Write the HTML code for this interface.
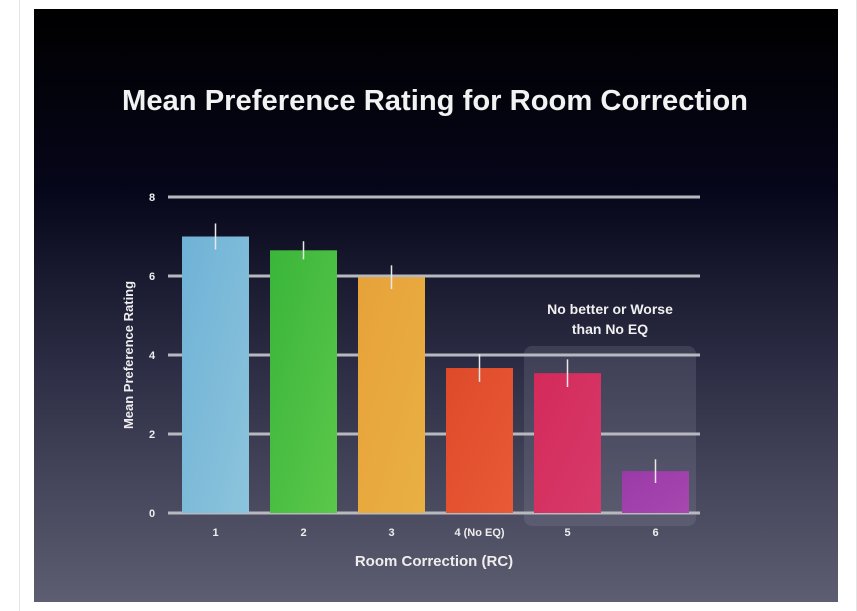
<!DOCTYPE html>
<html><head><meta charset="utf-8"><style>
body{margin:0;width:857px;height:611px;background:#fff;overflow:hidden;font-family:"Liberation Sans",sans-serif}
#frame{position:absolute;left:19px;top:0;width:836px;height:611px;border-left:1px solid #e4e4e4;border-right:1px solid #e4e4e4}
#slide{position:absolute;left:34px;top:9px;width:804px;height:593px;background:linear-gradient(#000 0%,#06061a 30%,#2c2c44 60%,#5e5e72 100%)}
svg{position:absolute;left:0;top:0}
</style></head><body>
<div id="frame"></div>
<div id="slide"></div>
<svg id="chart" width="857" height="611">
<defs>
<linearGradient id="g0" x1="0" x2="1" y1="0" y2="1"><stop offset="0" stop-color="#6fb2d6"/><stop offset="1" stop-color="#8cc4dc"/></linearGradient>
<linearGradient id="g1" x1="0" x2="1" y1="0" y2="1"><stop offset="0" stop-color="#3ab53a"/><stop offset="1" stop-color="#5bc84a"/></linearGradient>
<linearGradient id="g2" x1="0" x2="1" y1="0" y2="1"><stop offset="0" stop-color="#e7a23a"/><stop offset="1" stop-color="#e9b043"/></linearGradient>
<linearGradient id="g3" x1="0" x2="1" y1="0" y2="1"><stop offset="0" stop-color="#dd4a2a"/><stop offset="1" stop-color="#ea5a36"/></linearGradient>
<linearGradient id="g4" x1="0" x2="1" y1="0" y2="1"><stop offset="0" stop-color="#d42a5a"/><stop offset="1" stop-color="#d63a6a"/></linearGradient>
<linearGradient id="g5" x1="0" x2="1" y1="0" y2="1"><stop offset="0" stop-color="#9a3aa8"/><stop offset="1" stop-color="#a748b0"/></linearGradient>
</defs>
<text x="122" y="110" textLength="626" lengthAdjust="spacingAndGlyphs" fill="#f2f2f2" font-size="29" font-weight="bold">Mean Preference Rating for Room Correction</text>
<rect x="524" y="346" width="172" height="180" rx="8" fill="rgba(150,150,170,0.2)"/>
<text x="610" y="314" text-anchor="middle" fill="#f0f0f0" font-size="14" font-weight="bold">No better or Worse</text>
<text x="610" y="334" text-anchor="middle" fill="#f0f0f0" font-size="14" font-weight="bold">than No EQ</text>
<g id="grid"></g><g id="bars"></g><g id="labels"></g>
<text transform="translate(133,355) rotate(-90)" text-anchor="middle" fill="#eee" font-size="13" font-weight="bold">Mean Preference Rating</text>
<text x="434" y="566" text-anchor="middle" fill="#eee" font-size="15" font-weight="bold">Room Correction (RC)</text>
</svg>
<script>
const categories=["1","2","3","4 (No EQ)","5","6"];
const values=[7.0,6.65,5.97,3.67,3.54,1.06];
const errors=[0.33,0.23,0.3,0.35,0.35,0.3];
const yTicks=[0,2,4,6,8];
const NS="http://www.w3.org/2000/svg";
const y0=513,ppu=39.5,xStart=182,step=88,bw=67;
function y(v){return y0-v*ppu;}
function x(i){return xStart+i*step;}
function mk(t,a,p){const e=document.createElementNS(NS,t);for(const k in a)e.setAttribute(k,a[k]);p.appendChild(e);return e;}
const grid=document.getElementById('grid'),bars=document.getElementById('bars'),labels=document.getElementById('labels');
yTicks.forEach(t=>{
 const l=mk('line',{x1:168,x2:700,y1:y(t),y2:y(t),stroke:'#b8b8c0','stroke-width':3},grid);
 
 
 const tx=mk('text',{x:152,y:y(t)+4,'text-anchor':'middle',fill:'#eee','font-size':11,'font-weight':'bold'},labels);
 tx.textContent=t;
 
 
});
values.forEach((v,i)=>{
 const r=mk('rect',{x:x(i),y:y(v),width:bw,height:y0-y(v),fill:'url(#g'+i+')'},bars);
 
 
 const cx=x(i)+bw/2;
 const e=mk('line',{x1:cx,x2:cx,y1:y(v+errors[i]),y2:y(v-errors[i]),stroke:'#e8e8e8','stroke-width':1.5},bars);
 
 
 const tx=mk('text',{x:cx,y:536,'text-anchor':'middle',fill:'#eee','font-size':11,'font-weight':'bold'},labels);
 tx.textContent=categories[i];
 
 
});
</script>
</body></html>
